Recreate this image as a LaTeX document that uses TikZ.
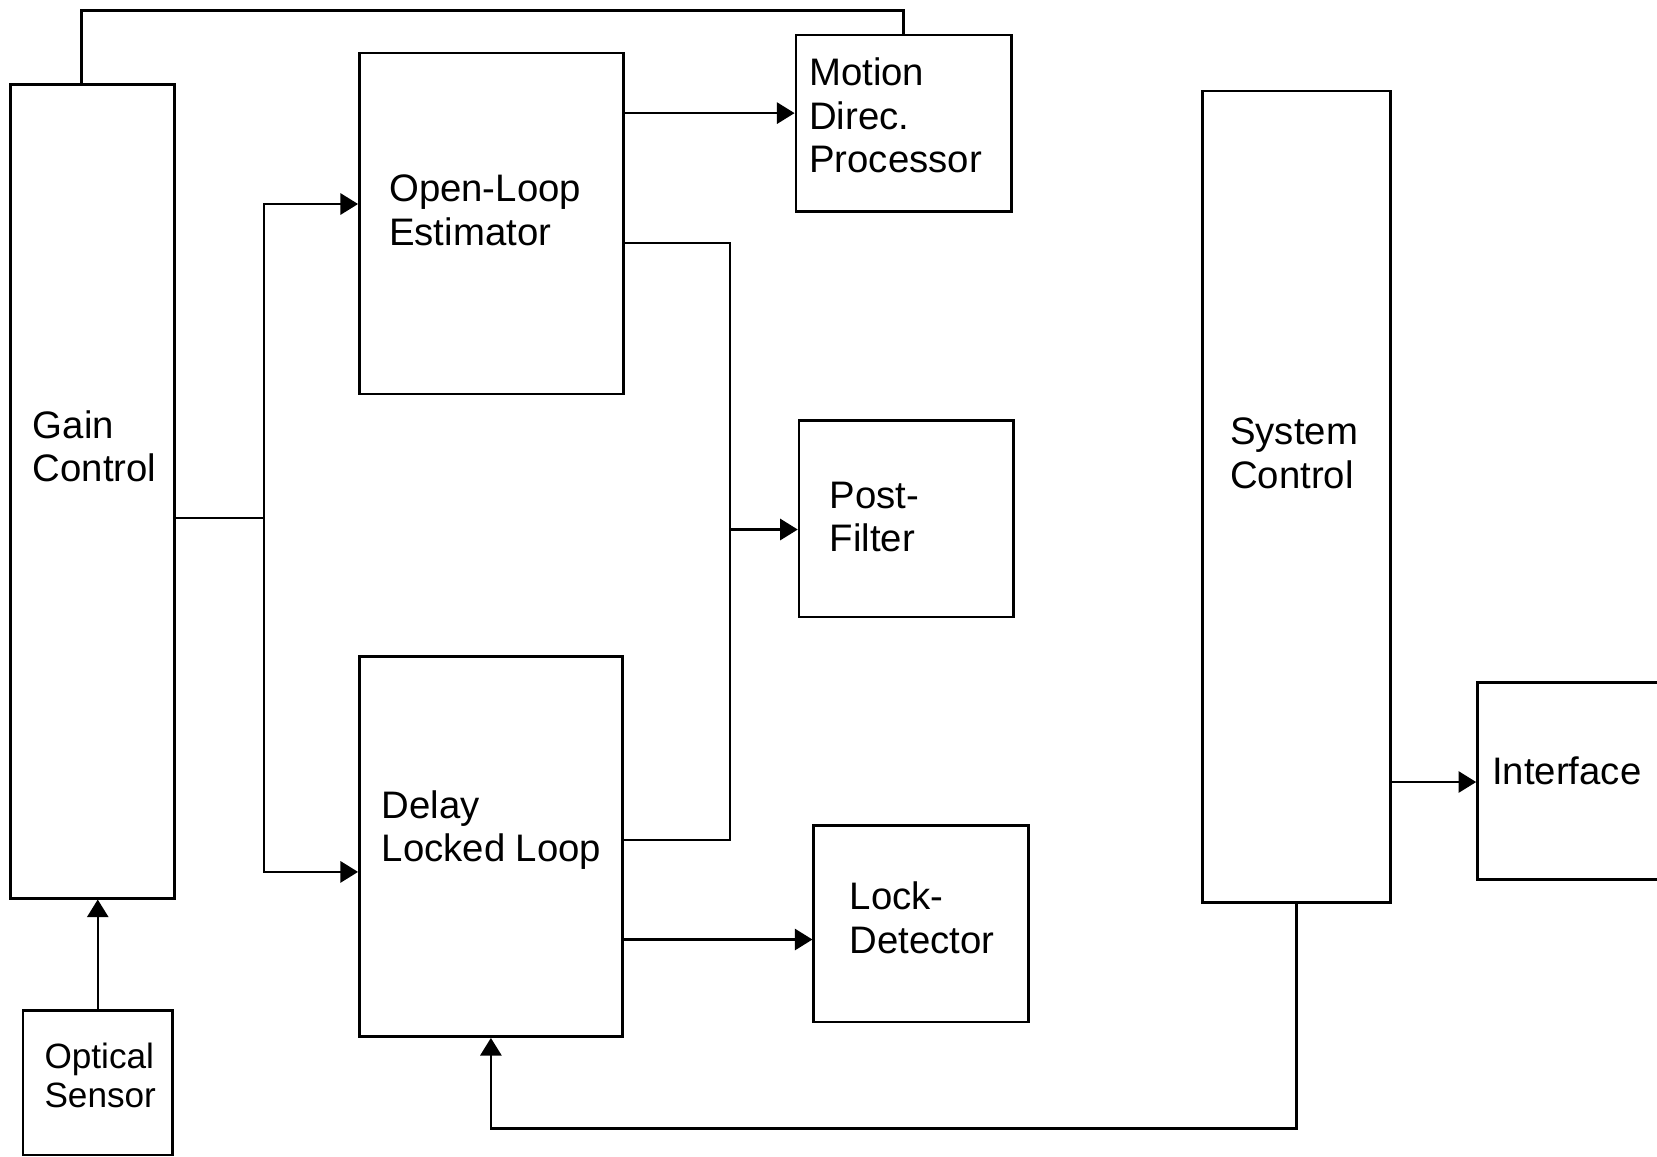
\documentclass[tikz,border=0pt]{standalone}
\usepackage{fontspec}
\setmainfont{Liberation Sans}
\usetikzlibrary{arrows.meta, positioning, fit}

\begin{document}
\begin{tikzpicture}[
    x=0.01cm, y=-0.01cm,
    block/.style={draw, rectangle, inner sep=0pt, line width=0.7pt},
    txt/.style={anchor=base west, align=left, inner sep=0pt,
        font=\fontsize{10.9}{12.3}\selectfont},
    smalltxt/.style={txt, font=\fontsize{10}{11.1}\selectfont},
    >={Triangle[length=5pt, width=6pt]}, line width=0.7pt
]
\useasboundingbox (0,0) rectangle (1657,1156);

% blocks
\node[block, fit={(10.6,84.5) (174.4,898.3)}] (gain) {};
\node[block, fit={(23.2,1010.3) (172.3,1155)}] (sensor) {};
\node[block, fit={(359.3,52.8) (623.5,394.2)}] (openloop) {};
\node[block, fit={(359.3,656.3) (622.5,1036.7)}] (dll) {};
\node[block, fit={(795.8,34.9) (1011.4,211.4)}] (motion) {};
\node[block, fit={(799,420.6) (1013.5,617.2)}] (postfilter) {};
\node[block, fit={(813.7,825.4) (1028.3,1021.9)}] (lockdet) {};
\node[block, fit={(1202.6,90.9) (1390.7,902.5)}] (sysctrl) {};
\node[block, fit={(1477.4,682.7) (1670,879.3)}] (interface) {};

% labels (placed at the baseline of their last line)
\node[txt] (gain-txt) at (31.7,481.9) {Gain\\Control};
\node[smalltxt] (sensor-txt) at (43.3,1107.5) {Optical\\Sensor};
\node[txt] (openloop-txt) at (388,245.2) {Open-Loop\\Estimator};
\node[txt] (dll-txt) at (380.5,861.3) {Delay\\Locked Loop};
\node[txt] (motion-txt) at (808,172.3) {Motion\\Direc.\\Processor};
\node[txt] (postfilter-txt) at (828.5,551.6) {Post-\\Filter};
\node[txt] (lockdet-txt) at (848.6,953.2) {Lock-\\Detector};
\node[txt] (sysctrl-txt) at (1229,488.2) {System\\Control};
\node[txt] (interface-txt) at (1491,784.1) {Interface};

% bend points
\coordinate (gcTop) at (81.4,10.6);
\coordinate (bus) at (264.2,517.8);
\coordinate (olRow) at (300,204);
\coordinate (dllRow) at (300,871.9);
\coordinate (mdRow) at (700,113.1);
\coordinate (olOut) at (700,243.1);
\coordinate (split) at (730.2,529.5);
\coordinate (dllOut) at (700,840.2);
\coordinate (ldRow) at (700,939.5);
\coordinate (ifRow) at (1430,782);
\coordinate (fb) at (900,1128.7);

% connectors
\draw (gain.north -| gcTop) |- (motion.north |- gcTop) -- (motion.north);
\draw[->] (sensor.north) -- (gain.south -| sensor.north);
\draw (gain.east |- bus) -- (bus);
\draw[->] (bus) |- (openloop.west |- olRow);
\draw[->] (bus) |- (dll.west |- dllRow);
\draw[->] (openloop.east |- mdRow) -- (motion.west |- mdRow);
\draw (openloop.east |- olOut) -| (split) |- (dll.east |- dllOut);
\draw[->] (split) -- (postfilter.west |- split);
\draw[->] (dll.east |- ldRow) -- (lockdet.west |- ldRow);
\draw[->] (sysctrl.east |- ifRow) -- (interface.west |- ifRow);
\draw[->] (sysctrl.south) |- (fb) -| (dll.south);

\end{tikzpicture}
\end{document}
